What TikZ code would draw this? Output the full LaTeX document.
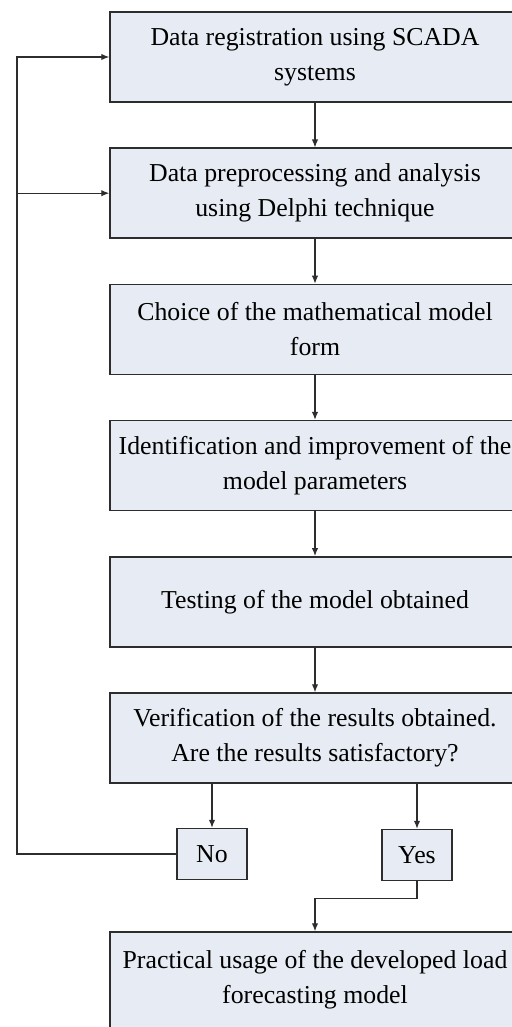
\documentclass[tikz,border=0pt]{standalone}
\usepackage{fontspec}
\setmainfont{Liberation Serif}
\usetikzlibrary{positioning,arrows.meta}
\definecolor{boxfill}{RGB}{231,236,244}
\definecolor{boxline}{RGB}{45,45,45}
\tikzset{
  procbox/.style={draw=boxline, fill=boxfill, line width=0.7pt, align=center,
    minimum width=205pt, minimum height=45pt, inner sep=2pt, font=\fontsize{12.9pt}{17.5pt}\selectfont},
  answer/.style={draw=boxline, fill=boxfill, line width=0.7pt, minimum width=35pt, minimum height=25.5pt,
    inner sep=1pt, font=\fontsize{12.9pt}{17.5pt}\selectfont},
  flow/.style={->, line width=0.6pt, draw=boxline},
}
\begin{document}
\begin{tikzpicture}[>={Latex[length=4pt,width=3.2pt]}, node distance=22.4pt]
\useasboundingbox (0,0) rectangle (256pt,-513.5pt);
\clip (0,0) rectangle (256pt,-513.5pt);
\fill[white] (0,0) rectangle (256pt,-513.5pt);
% main chain
\node[procbox] (reg) at (157.5pt,-28.5pt) {Data registration using SCADA\\ systems};
\node[procbox, below=of reg] (prep) {Data preprocessing and analysis\\ using Delphi technique};
\node[procbox, below=of prep] (choice) {Choice of the mathematical model\\ form};
\node[procbox, below=of choice] (ident) {Identification and improvement of the\\ model parameters};
\node[procbox, below=of ident] (test) {Testing of the model obtained};
\node[procbox, below=of test] (veri) {Verification of the results obtained.\\ Are the results satisfactory?};
% answers
\node[answer] (no) at (106pt,-427pt) {No};
\node[answer] (yes) at (208.5pt,-427.5pt) {Yes};
\node[procbox, minimum height=48pt] (prac) at (157.5pt,-490pt) {Practical usage of the developed load\\ forecasting model};
\coordinate (fb) at (8.5pt,0);
\draw[flow] (reg) -- (prep);
\draw[flow] (prep) -- (choice);
\draw[flow] (choice) -- (ident);
\draw[flow] (ident) -- (test);
\draw[flow] (test) -- (veri);
\draw[flow] (no.north |- veri.south) -- (no.north);
\draw[flow] (yes.north |- veri.south) -- (yes.north);
\draw[flow] (yes.south) -- ++(0,-8.5pt) -| (prac.north);
% feedback loop
\draw[flow] (no.west) -- (no.west -| fb) |- (reg.west);
\draw[flow] (fb |- prep.west) -- (prep.west);
\end{tikzpicture}
\end{document}
